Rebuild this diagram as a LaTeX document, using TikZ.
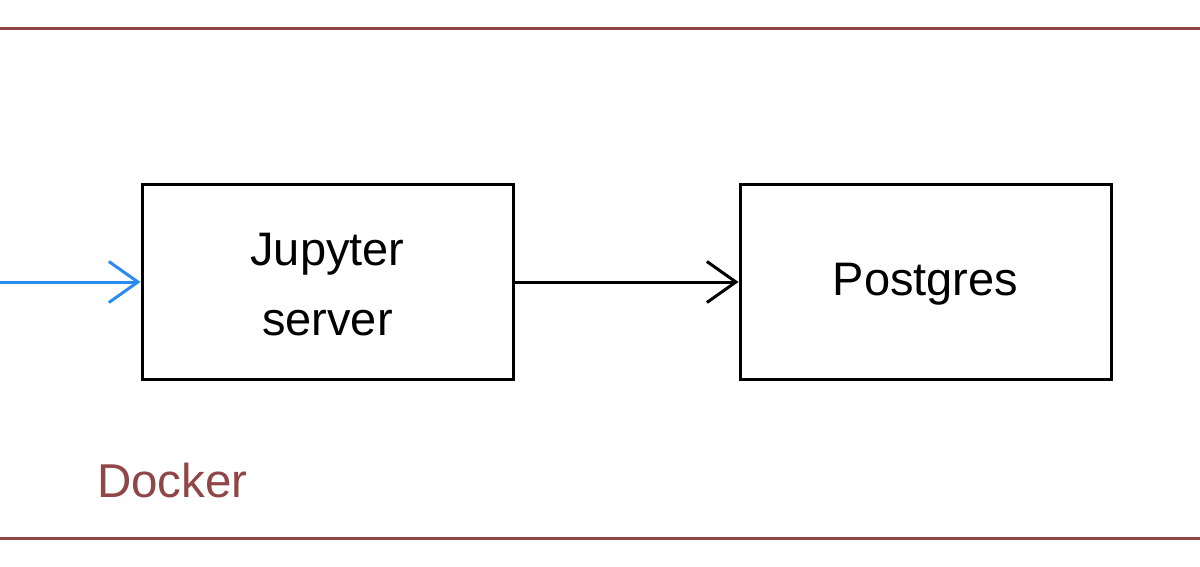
\documentclass[tikz,border=0pt]{standalone}
\usepackage{fontspec}
\setmainfont{Liberation Sans}
\usetikzlibrary{arrows.meta}
\definecolor{dockerred}{HTML}{904646}
\definecolor{linkblue}{HTML}{2A8CF0}
\begin{document}
\begin{tikzpicture}[x=1pt,y=-1pt,
  box/.style={draw=black,line width=3pt,minimum width=371pt,minimum height=194pt,inner sep=0pt},
  lbl/.style={font=\fontsize{47}{70}\selectfont,inner sep=0pt,anchor=base,align=center},
  bound/.style={draw=dockerred,line width=3pt},
  conn/.style={line width=3pt,-{Straight Barb[length=29pt,width=41pt,line width=3pt]}}]
\useasboundingbox (0,0) rectangle (1200,567);
\fill[white] (0,0) rectangle (1200,567);
\coordinate (tl) at (0,29); \coordinate (tr) at (1200,29);
\coordinate (bl) at (0,538); \coordinate (br) at (1200,538);
\draw[bound] (tl) -- (tr);
\draw[bound] (bl) -- (br);
\node[box] (jup) at (327.5,282) {};
\node[box] (pg) at (925.5,282) {};
\node[lbl] (jupt) at (327.5,335) {Jupyter\\server};
\node[lbl] (pgt) at (925.5,295) {Postgres};
\node[font=\fontsize{47.5}{55}\selectfont,text=dockerred,inner sep=0pt,anchor=base west] (dock) at (97,497) {Docker};
\coordinate (in) at (0,282);
\draw[conn,draw=linkblue] (in) -- (jup.west);
\draw[conn,draw=black] (jup.east) -- (pg.west);
\end{tikzpicture}
\end{document}
